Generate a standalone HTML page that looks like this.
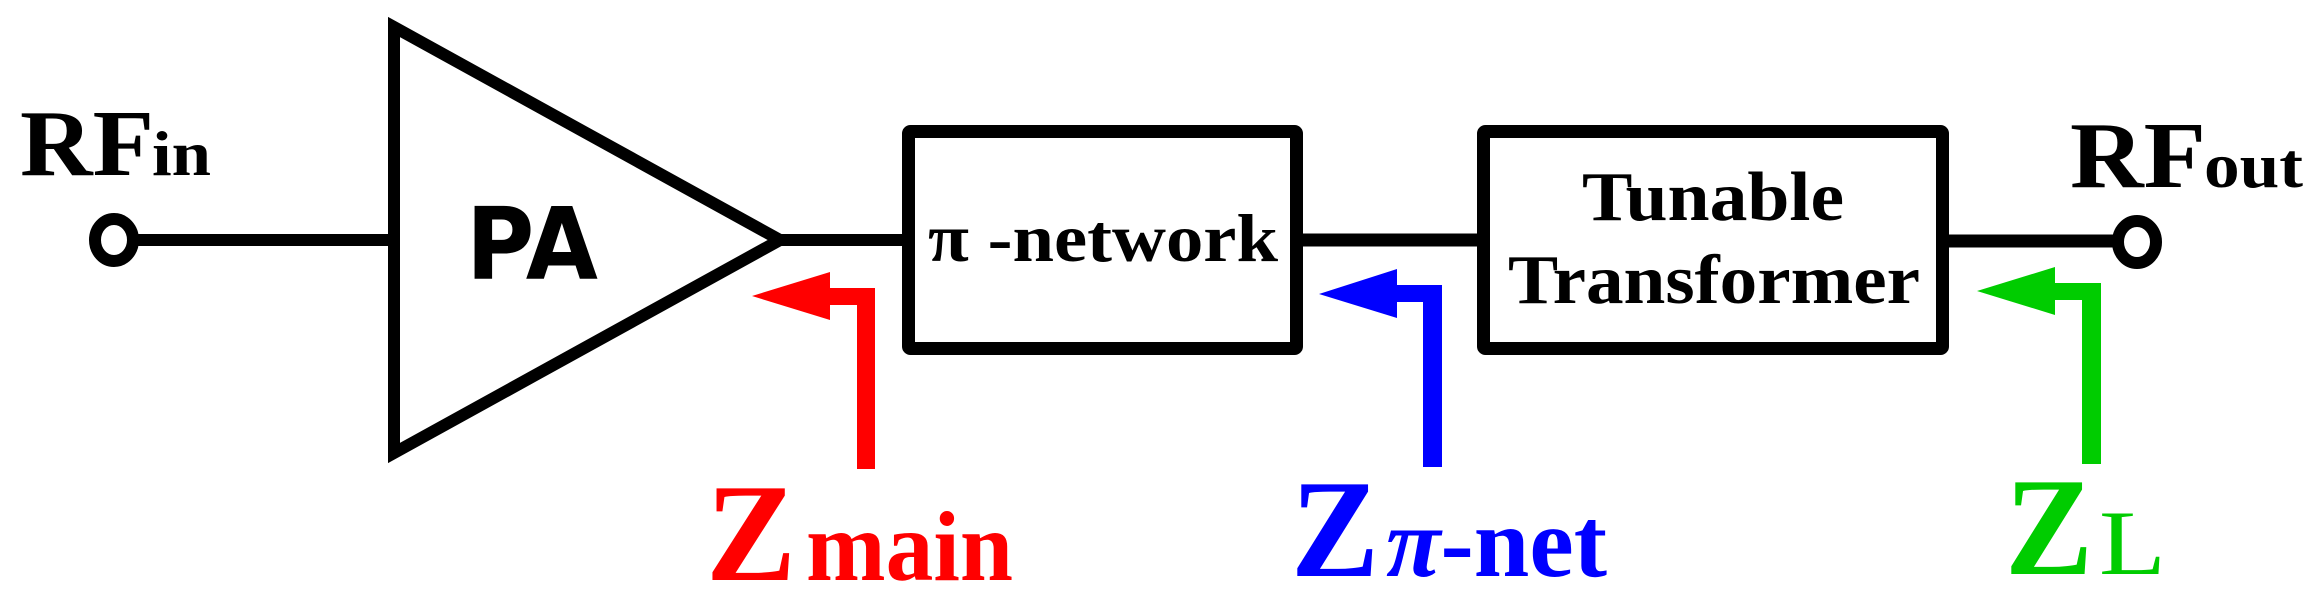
<!DOCTYPE html>
<html><head><meta charset="utf-8"><style>html,body{margin:0;padding:0;background:#fff;}svg{display:block}
svg text{font-family:"Liberation Serif","Times New Roman",serif;font-weight:bold}
svg text.pa{font-family:"DejaVu Sans","Liberation Sans",sans-serif}
svg text.nb{font-weight:normal}</style></head>
<body>
<svg width="2316" height="610" viewBox="0 0 2316 610" xmlns="http://www.w3.org/2000/svg">
<text x="20" y="175" font-size="94" textLength="134" lengthAdjust="spacingAndGlyphs">RF</text>
<text x="152" y="175" font-size="64" textLength="59" lengthAdjust="spacingAndGlyphs">in</text>
<ellipse cx="114" cy="240" rx="19" ry="21" fill="none" stroke="#000" stroke-width="12"/>
<line x1="133" y1="240" x2="394" y2="240" stroke="#000" stroke-width="12"/>
<polygon points="394,27 780,240 394,453" fill="none" stroke="#000" stroke-width="12"/>
<text class="pa" x="466" y="279" font-size="100" textLength="132" lengthAdjust="spacingAndGlyphs">PA</text>
<line x1="780" y1="240" x2="908" y2="240" stroke="#000" stroke-width="12"/>
<rect x="908.5" y="131.5" width="388" height="217" fill="none" stroke="#000" stroke-width="13" rx="2"/>
<text x="928" y="261" font-size="68" textLength="350" lengthAdjust="spacingAndGlyphs">π -network</text>
<line x1="1303" y1="240" x2="1477" y2="240" stroke="#000" stroke-width="13"/>
<rect x="1483.5" y="131.5" width="459" height="217" fill="none" stroke="#000" stroke-width="13" rx="2"/>
<text x="1582" y="220" font-size="70" textLength="262" lengthAdjust="spacingAndGlyphs">Tunable</text>
<text x="1508" y="303" font-size="70" textLength="412" lengthAdjust="spacingAndGlyphs">Transformer</text>
<line x1="1949" y1="241" x2="2118" y2="241" stroke="#000" stroke-width="13"/>
<ellipse cx="2137" cy="242" rx="19" ry="21" fill="none" stroke="#000" stroke-width="12"/>
<text x="2070" y="187" font-size="94" textLength="136" lengthAdjust="spacingAndGlyphs">RF</text>
<text x="2204" y="187" font-size="64" textLength="99" lengthAdjust="spacingAndGlyphs">out</text>
<polygon points="752,296 830,272 830,288 875,288 875,469 857,469 857,305 830,305 830,320" fill="#ff0000"/>
<text x="706" y="580" font-size="140" fill="#ff0000" textLength="90" lengthAdjust="spacingAndGlyphs">Z</text>
<text x="806" y="580" font-size="100" fill="#ff0000" textLength="207" lengthAdjust="spacingAndGlyphs">main</text>
<polygon points="1319,294 1397,269 1397,285 1442,285 1442,467 1423,467 1423,302 1397,302 1397,318" fill="#0000ff"/>
<text x="1291" y="576" font-size="140" fill="#0000ff" textLength="88" lengthAdjust="spacingAndGlyphs">Z</text>
<text x="1386" y="576" font-size="100" fill="#0000ff" textLength="221" lengthAdjust="spacingAndGlyphs"><tspan font-style="italic">π</tspan>-net</text>
<polygon points="1977,291 2055,267 2055,283 2101,283 2101,464 2082,464 2082,300 2055,300 2055,315" fill="#00cc00"/>
<text x="2005" y="574" font-size="140" fill="#00cc00" textLength="88" lengthAdjust="spacingAndGlyphs">Z</text>
<text class="nb" x="2099" y="574" font-size="92" fill="#00cc00" textLength="67" lengthAdjust="spacingAndGlyphs">L</text>
</svg>
</body></html>
